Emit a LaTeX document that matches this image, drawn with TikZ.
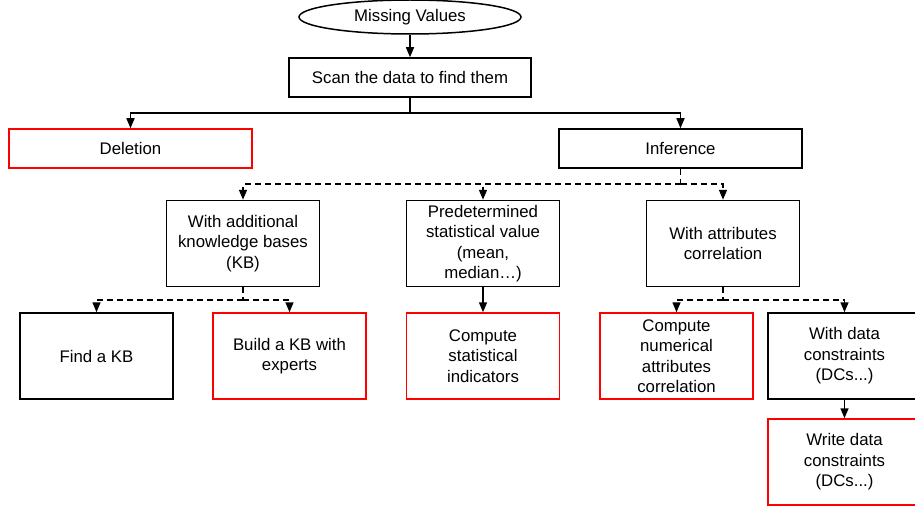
\documentclass[tikz,border=0pt]{standalone}
\usepackage{fontspec}
\setmainfont{Liberation Sans}
\usetikzlibrary{shapes.geometric,arrows.meta}
\begin{document}
\begin{tikzpicture}[x=1pt,y=-1pt,
		box/.style={draw, line width=1.5pt, rectangle, inner sep=0pt, align=center,
			font=\fontsize{16.8}{20.5}\selectfont},
		redbox/.style={box, draw=red},
		wide/.style={minimum width=243pt, minimum height=39pt},
		tall/.style={minimum width=153pt, minimum height=86pt},
		arr/.style={line width=1.5pt, -{Triangle[length=10pt,width=8pt]}},
		dsh/.style={line width=1.5pt, dash pattern=on 6pt off 4pt}]
		\clip (0,0) rectangle (915,508);
		\node[box, ellipse, minimum width=222pt, minimum height=34pt] (miss) at (410,17) {Missing Values};
		\node[box, minimum width=242pt, minimum height=39pt] (scan) at (410,77.5) {Scan the data to find them};
		\node[redbox, wide] (del) at (130.5,148.5) {Deletion};
		\node[box, wide] (inf) at (680.5,148.5) {Inference};
		\node[box, tall] (kbase) at (243,243.5) {With additional\\knowledge bases\\(KB)};
		\node[box, tall] (stat) at (483,243.5) {Predetermined\\statistical value\\(mean,\\median\ldots)};
		\node[box, tall] (attr) at (723,243.5) {With attributes\\correlation};
		\node[box, tall] (findkb) at (96.5,356) {Find a KB};
		\node[redbox, tall] (buildkb) at (289.5,356) {Build a KB with\\experts};
		\node[redbox, tall] (cstat) at (483,356) {Compute\\statistical\\indicators};
		\node[redbox, tall] (cnum) at (676.5,356) {Compute\\numerical\\attributes\\correlation};
		\node[box, tall] (dcs) at (844.5,356) {With data\\constraints\\(DCs...)};
		\node[redbox, tall] (wdcs) at (844.5,462) {Write data\\constraints\\(DCs...)};
		% joints
		\coordinate (j1) at (410,113);
		\coordinate (j2) at (680.5,184);
		\coordinate (j3) at (243,300);
		\coordinate (j4) at (723,300);
		\draw[arr] (miss) -- (scan);
		\draw[line width=1.5pt] (scan) -- (j1);
		\draw[arr] (j1) -| (del);
		\draw[arr] (j1) -| (inf);
		\draw[dsh] (inf) -- (j2);
		\draw[dsh,arr] (j2) -| (kbase);
		\draw[dsh,arr] (j2) -| (stat);
		\draw[dsh,arr] (j2) -| (attr);
		\draw[dsh] (kbase) -- (j3);
		\draw[dsh,arr] (j3) -| (findkb);
		\draw[dsh,arr] (j3) -| (buildkb);
		\draw[arr] (stat) -- (cstat);
		\draw[dsh] (attr) -- (j4);
		\draw[dsh,arr] (j4) -| (cnum);
		\draw[dsh,arr] (j4) -| (dcs);
		\draw[arr] (dcs) -- (wdcs);
	\end{tikzpicture}
\end{document}
